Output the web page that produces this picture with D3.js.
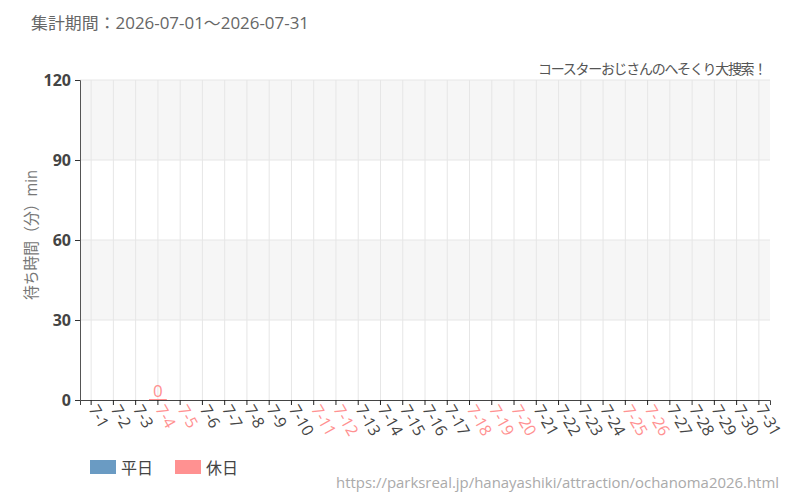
<!doctype html>
<html lang="ja">
<head>
  <meta charset="UTF-8">
  <title>待ち時間</title>
  <script src="https://cdn.jsdelivr.net/npm/d3@7/dist/d3.min.js"></script>
  <style>
    body { margin: 0; background: #fff; }
    text { font-family: "Open Sans", "Noto Sans CJK JP", sans-serif; }
  </style>
</head>
<body>
<div id="container"></div>
<script type="text/javascript">
var days = ['7-1','7-2','7-3','7-4','7-5','7-6','7-7','7-8','7-9','7-10',
  '7-11','7-12','7-13','7-14','7-15','7-16','7-17','7-18','7-19','7-20',
  '7-21','7-22','7-23','7-24','7-25','7-26','7-27','7-28','7-29','7-30','7-31'];
var holidays = ['7-4','7-5','7-11','7-12','7-18','7-19','7-20','7-25','7-26'];
// wait time (min) per day, null = no data
var waits = [null,null,null,0,null,null,null,null,null,null,
  null,null,null,null,null,null,null,null,null,null,
  null,null,null,null,null,null,null,null,null,null,null];
var yTicks = [0, 30, 60, 90, 120];

var blue = '#6a9bc3', pink = '#ff9191';
var W = 800, H = 500;
var m = {left: 80, right: 30, top: 80, bottom: 100};

var svg = d3.select('#container').append('svg')
  .attr('width', W).attr('height', H);

var x = d3.scaleBand().domain(days).range([m.left, W - m.right]);
var y = d3.scaleLinear().domain([0, 120]).range([H - m.bottom, m.top]);

// alternating bands
for (var i = 0; i < yTicks.length - 1; i++) {
  if (i % 2 == 1) {
    svg.append('rect')
      .attr('x', m.left).attr('width', W - m.right - m.left)
      .attr('y', y(yTicks[i + 1])).attr('height', y(yTicks[i]) - y(yTicks[i + 1]))
      .attr('fill', '#f6f6f6');
  }
}

// grid
svg.append('g').selectAll('line').data(days).enter().append('line')
  .attr('x1', function(d) { return x(d) + x.bandwidth() / 2; })
  .attr('x2', function(d) { return x(d) + x.bandwidth() / 2; })
  .attr('y1', y(120)).attr('y2', y(0))
  .attr('stroke', '#e6e6e6');
svg.append('g').selectAll('line').data(yTicks.slice(1)).enter().append('line')
  .attr('x1', m.left).attr('x2', W - m.right)
  .attr('y1', function(d) { return y(d); }).attr('y2', function(d) { return y(d); })
  .attr('stroke', '#e6e6e6');

// bars
var pts = days.map(function(d, i) { return {day: d, v: waits[i]}; })
  .filter(function(p) { return p.v !== null; });
var bw = x.bandwidth() * 0.8;
svg.append('g').selectAll('rect').data(pts).enter().append('rect')
  .attr('x', function(p) { return x(p.day) + (x.bandwidth() - bw) / 2; })
  .attr('width', bw)
  .attr('y', function(p) { return y(p.v) - 1; })
  .attr('height', function(p) { return y(0) - y(p.v) + 1; })
  .attr('fill', function(p) { return holidays.indexOf(p.day) > -1 ? pink : blue; });
svg.append('g').selectAll('text').data(pts).enter().append('text')
  .attr('x', function(p) { return x(p.day) + x.bandwidth() / 2; })
  .attr('y', function(p) { return y(p.v) - 3; })
  .attr('text-anchor', 'middle')
  .attr('font-size', 17)
  .attr('fill', function(p) { return holidays.indexOf(p.day) > -1 ? pink : blue; })
  .text(function(p) { return p.v; });

// axes
var yAxis = svg.append('g').attr('transform', 'translate(' + m.left + ',0)')
  .call(d3.axisLeft(y).tickValues(yTicks).tickSize(5).tickPadding(4));
yAxis.select('.domain').attr('stroke', '#555');
yAxis.selectAll('.tick line').attr('stroke', '#333');
yAxis.selectAll('text').attr('font-size', 16).attr('font-weight', 'bold')
  .attr('fill', '#444');

var xAxis = svg.append('g').attr('transform', 'translate(0,' + y(0) + ')')
  .call(d3.axisBottom(x).tickSizeOuter(0).tickSize(5));
xAxis.select('.domain').attr('stroke', '#444');
xAxis.selectAll('.tick line').attr('stroke', '#222');
xAxis.selectAll('text')
  .attr('font-size', 16)
  .attr('text-anchor', 'start')
  .attr('y', 0).attr('dy', 0)
  .attr('transform', 'translate(-3,9) rotate(60)')
  .attr('fill', function(d) { return holidays.indexOf(d) > -1 ? pink : '#444'; });

// titles
svg.append('text').attr('x', 31).attr('y', 29)
  .attr('font-size', 16).attr('fill', '#666')
  .attr('textLength', 278).attr('lengthAdjust', 'spacingAndGlyphs')
  .text('集計期間：2026-07-01～2026-07-31');
svg.append('text').attr('x', 766).attr('y', 74)
  .attr('text-anchor', 'end').attr('font-size', 14).attr('fill', '#555')
  .attr('letter-spacing', -1.3)
  .text('コースターおじさんのへそくり大捜索！');
svg.append('text')
  .attr('transform', 'translate(37,235) rotate(-90)')
  .attr('text-anchor', 'middle').attr('font-size', 16).attr('fill', '#777')
  .attr('textLength', 130).attr('lengthAdjust', 'spacingAndGlyphs')
  .text('待ち時間（分）min');

// legend
var legend = [{label: '平日', color: blue}, {label: '休日', color: pink}];
var lg = svg.append('g').selectAll('g').data(legend).enter().append('g')
  .attr('transform', function(d, i) { return 'translate(' + (90 + i * 85) + ',460)'; });
lg.append('rect').attr('width', 26).attr('height', 14)
  .attr('fill', function(d) { return d.color; });
lg.append('text').attr('x', 31).attr('y', 14)
  .attr('font-size', 16).attr('fill', '#444')
  .text(function(d) { return d.label; });

svg.append('text').attr('x', 779).attr('y', 488)
  .attr('text-anchor', 'end').attr('font-size', 15).attr('fill', '#aaa')
  .attr('textLength', 443).attr('lengthAdjust', 'spacingAndGlyphs')
  .text('https://parksreal.jp/hanayashiki/attraction/ochanoma2026.html');
</script>
</body>
</html>
